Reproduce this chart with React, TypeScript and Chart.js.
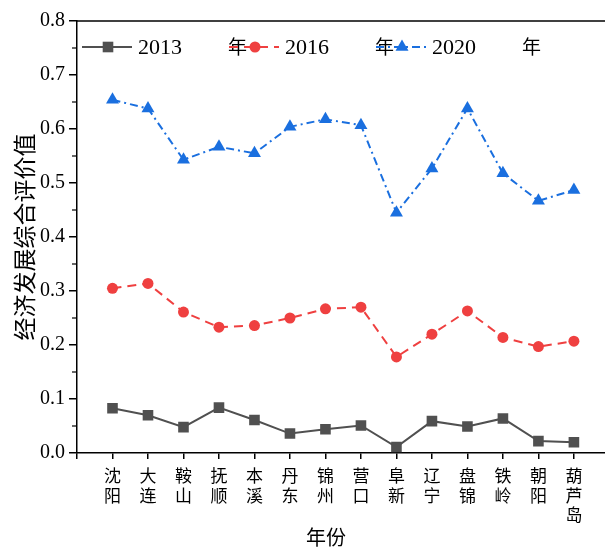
import React, { useEffect, useRef } from "react";
import { Chart, registerables } from "chart.js";
import { drawPoint } from "chart.js/helpers";

Chart.register(...registerables);

const cities = ["沈阳", "大连", "鞍山", "抚顺", "本溪", "丹东", "锦州", "营口", "阜新", "辽宁", "盘锦", "铁岭", "朝阳", "葫芦岛"];
const years = ["2013", "2016", "2020"];
const values2013 = [0.083, 0.070, 0.048, 0.084, 0.061, 0.036, 0.044, 0.051, 0.011, 0.059, 0.049, 0.064, 0.022, 0.020];
const values2016 = [0.305, 0.314, 0.261, 0.233, 0.236, 0.250, 0.267, 0.270, 0.178, 0.220, 0.263, 0.214, 0.197, 0.207];
const values2020 = [0.654, 0.638, 0.543, 0.567, 0.555, 0.604, 0.618, 0.607, 0.445, 0.527, 0.638, 0.518, 0.467, 0.487];
const yTicks = [0, 0.1, 0.2, 0.3, 0.4, 0.5, 0.6, 0.7, 0.8];
const yearSuffix = "年";
const xTitle = "年份";
const yTitle = "经济发展综合评价值";

const FONT = "'Liberation Serif', 'Noto Sans CJK SC', serif";

const extrasPlugin = {
  id: "extras",
  afterDraw(chart: any) {
    const ctx = chart.ctx;
    const { left, top } = chart.chartArea;
    const y = chart.scales.y;
    ctx.save();
    // top frame line
    ctx.strokeStyle = "#000";
    ctx.lineWidth = 1.5;
    ctx.beginPath();
    ctx.moveTo(left, top);
    ctx.lineTo(chart.width, top);
    ctx.stroke();
    // minor ticks
    ctx.lineWidth = 1.2;
    for (let i = 0; i < yTicks.length - 1; i++) {
      const v = (yTicks[i] + yTicks[i + 1]) / 2;
      const py = y.getPixelForValue(v);
      ctx.beginPath();
      ctx.moveTo(left - 5, py);
      ctx.lineTo(left, py);
      ctx.stroke();
    }
    // x axis title
    ctx.fillStyle = "#000";
    ctx.font = `20px 'Noto Sans CJK SC', sans-serif`;
    ctx.textAlign = "center";
    ctx.textBaseline = "middle";
    ctx.fillText(xTitle, 326, 537);
    // legend
    const ly = 47;
    chart.data.datasets.forEach((ds: any, i: number) => {
      const x0 = 82 + i * 147;
      ctx.save();
      ctx.strokeStyle = ds.borderColor;
      ctx.lineWidth = ds.borderWidth;
      ctx.setLineDash(ds.borderDash || []);
      ctx.beginPath();
      ctx.moveTo(x0, ly);
      ctx.lineTo(x0 + 50, ly);
      ctx.stroke();
      ctx.setLineDash([]);
      ctx.fillStyle = ds.pointBackgroundColor;
      ctx.strokeStyle = ds.pointBackgroundColor;
      drawPoint(ctx, { pointStyle: ds.pointStyle, radius: ds.pointRadius, borderWidth: 0, rotation: 0 }, x0 + 26, ly);
      ctx.restore();
      ctx.fillStyle = "#000";
      ctx.font = `22px ${FONT}`;
      ctx.textBaseline = "middle";
      ctx.textAlign = "left";
      ctx.fillText(ds.label, x0 + 56, ly + 1);
      ctx.font = `19px 'Noto Sans CJK SC', sans-serif`;
      ctx.fillText(yearSuffix, x0 + 146, ly);
    });
    ctx.restore();
  },
};

export default function App() {
  const ref = useRef<HTMLCanvasElement>(null);
  useEffect(() => {
    if (!ref.current) return;
    const mk = (vals: number[]) => vals.map((v, i) => ({ x: i, y: v }));
    const chart = new Chart(ref.current, {
      type: "line",
      data: {
        datasets: [
          { label: years[0], data: mk(values2013), borderColor: "#505050", backgroundColor: "#505050", pointBackgroundColor: "#505050", pointBorderWidth: 0, borderWidth: 2, pointStyle: "rect", pointRadius: 7.5 },
          { label: years[1], data: mk(values2016), borderColor: "#ef4040", backgroundColor: "#ef4040", pointBackgroundColor: "#ef4040", pointBorderWidth: 0, borderWidth: 2, borderDash: [9, 6], pointStyle: "circle", pointRadius: 5.5 },
          { label: years[2], data: mk(values2020), borderColor: "#1a6fdf", backgroundColor: "#1a6fdf", pointBackgroundColor: "#1a6fdf", pointBorderWidth: 0, borderWidth: 2, borderDash: [8, 4, 2, 4], pointStyle: "triangle", pointRadius: 7.5 },
        ] as any,
      },
      options: {
        animation: false,
        responsive: false,
        maintainAspectRatio: false,
        layout: { padding: { top: 21, left: 0, right: 0, bottom: 0 } },
        plugins: { legend: { display: false }, tooltip: { enabled: false } },
        scales: {
          x: {
            type: "linear", min: -1, max: 13.89,
            afterFit: (s: any) => { s.height = 96; s.paddingLeft = 0; s.paddingRight = 0; },
            ticks: {
              stepSize: 1, includeBounds: false, autoSkip: false, maxRotation: 0, minRotation: 0, padding: 7, color: "#000",
              font: { family: "'Noto Sans CJK SC', sans-serif", size: 17, lineHeight: 1.15 },
              callback: (v: any) => { const c = cities[v as number]; return c ? c.split("") : ""; },
            },
            grid: { drawOnChartArea: false, drawTicks: true, tickLength: 6, color: "#000", lineWidth: 1.5 },
            border: { display: true, color: "#000", width: 1.5 },
            title: { display: false },
          },
          y: {
            min: 0, max: 0.8,
            afterFit: (s: any) => { s.width = 77; s.paddingTop = 0; s.paddingBottom = 0; },
            afterBuildTicks: (s: any) => { s.ticks = yTicks.map((v) => ({ value: v })); },
            ticks: { padding: 4, color: "#000", font: { family: FONT, size: 20 }, callback: (v: any) => Number(v).toFixed(1) },
            grid: { drawOnChartArea: false, drawTicks: true, tickLength: 8, color: "#000", lineWidth: 1.5 },
            border: { display: true, color: "#000", width: 1.5 },
            title: { display: true, text: yTitle, color: "#000", font: { family: "'Noto Sans CJK SC', sans-serif", size: 23, lineHeight: 1.2 }, padding: { top: 10, bottom: 0 } },
          },
        },
      },
      plugins: [extrasPlugin],
    } as any);
    return () => chart.destroy();
  }, []);
  return (
    <div style={{ position: "absolute", left: 0, top: 0, width: 605, height: 549, overflow: "hidden", background: "#fff" }}>
      <canvas ref={ref} width={613} height={549} style={{ width: 613, height: 549, display: "block" }} />
    </div>
  );
}
